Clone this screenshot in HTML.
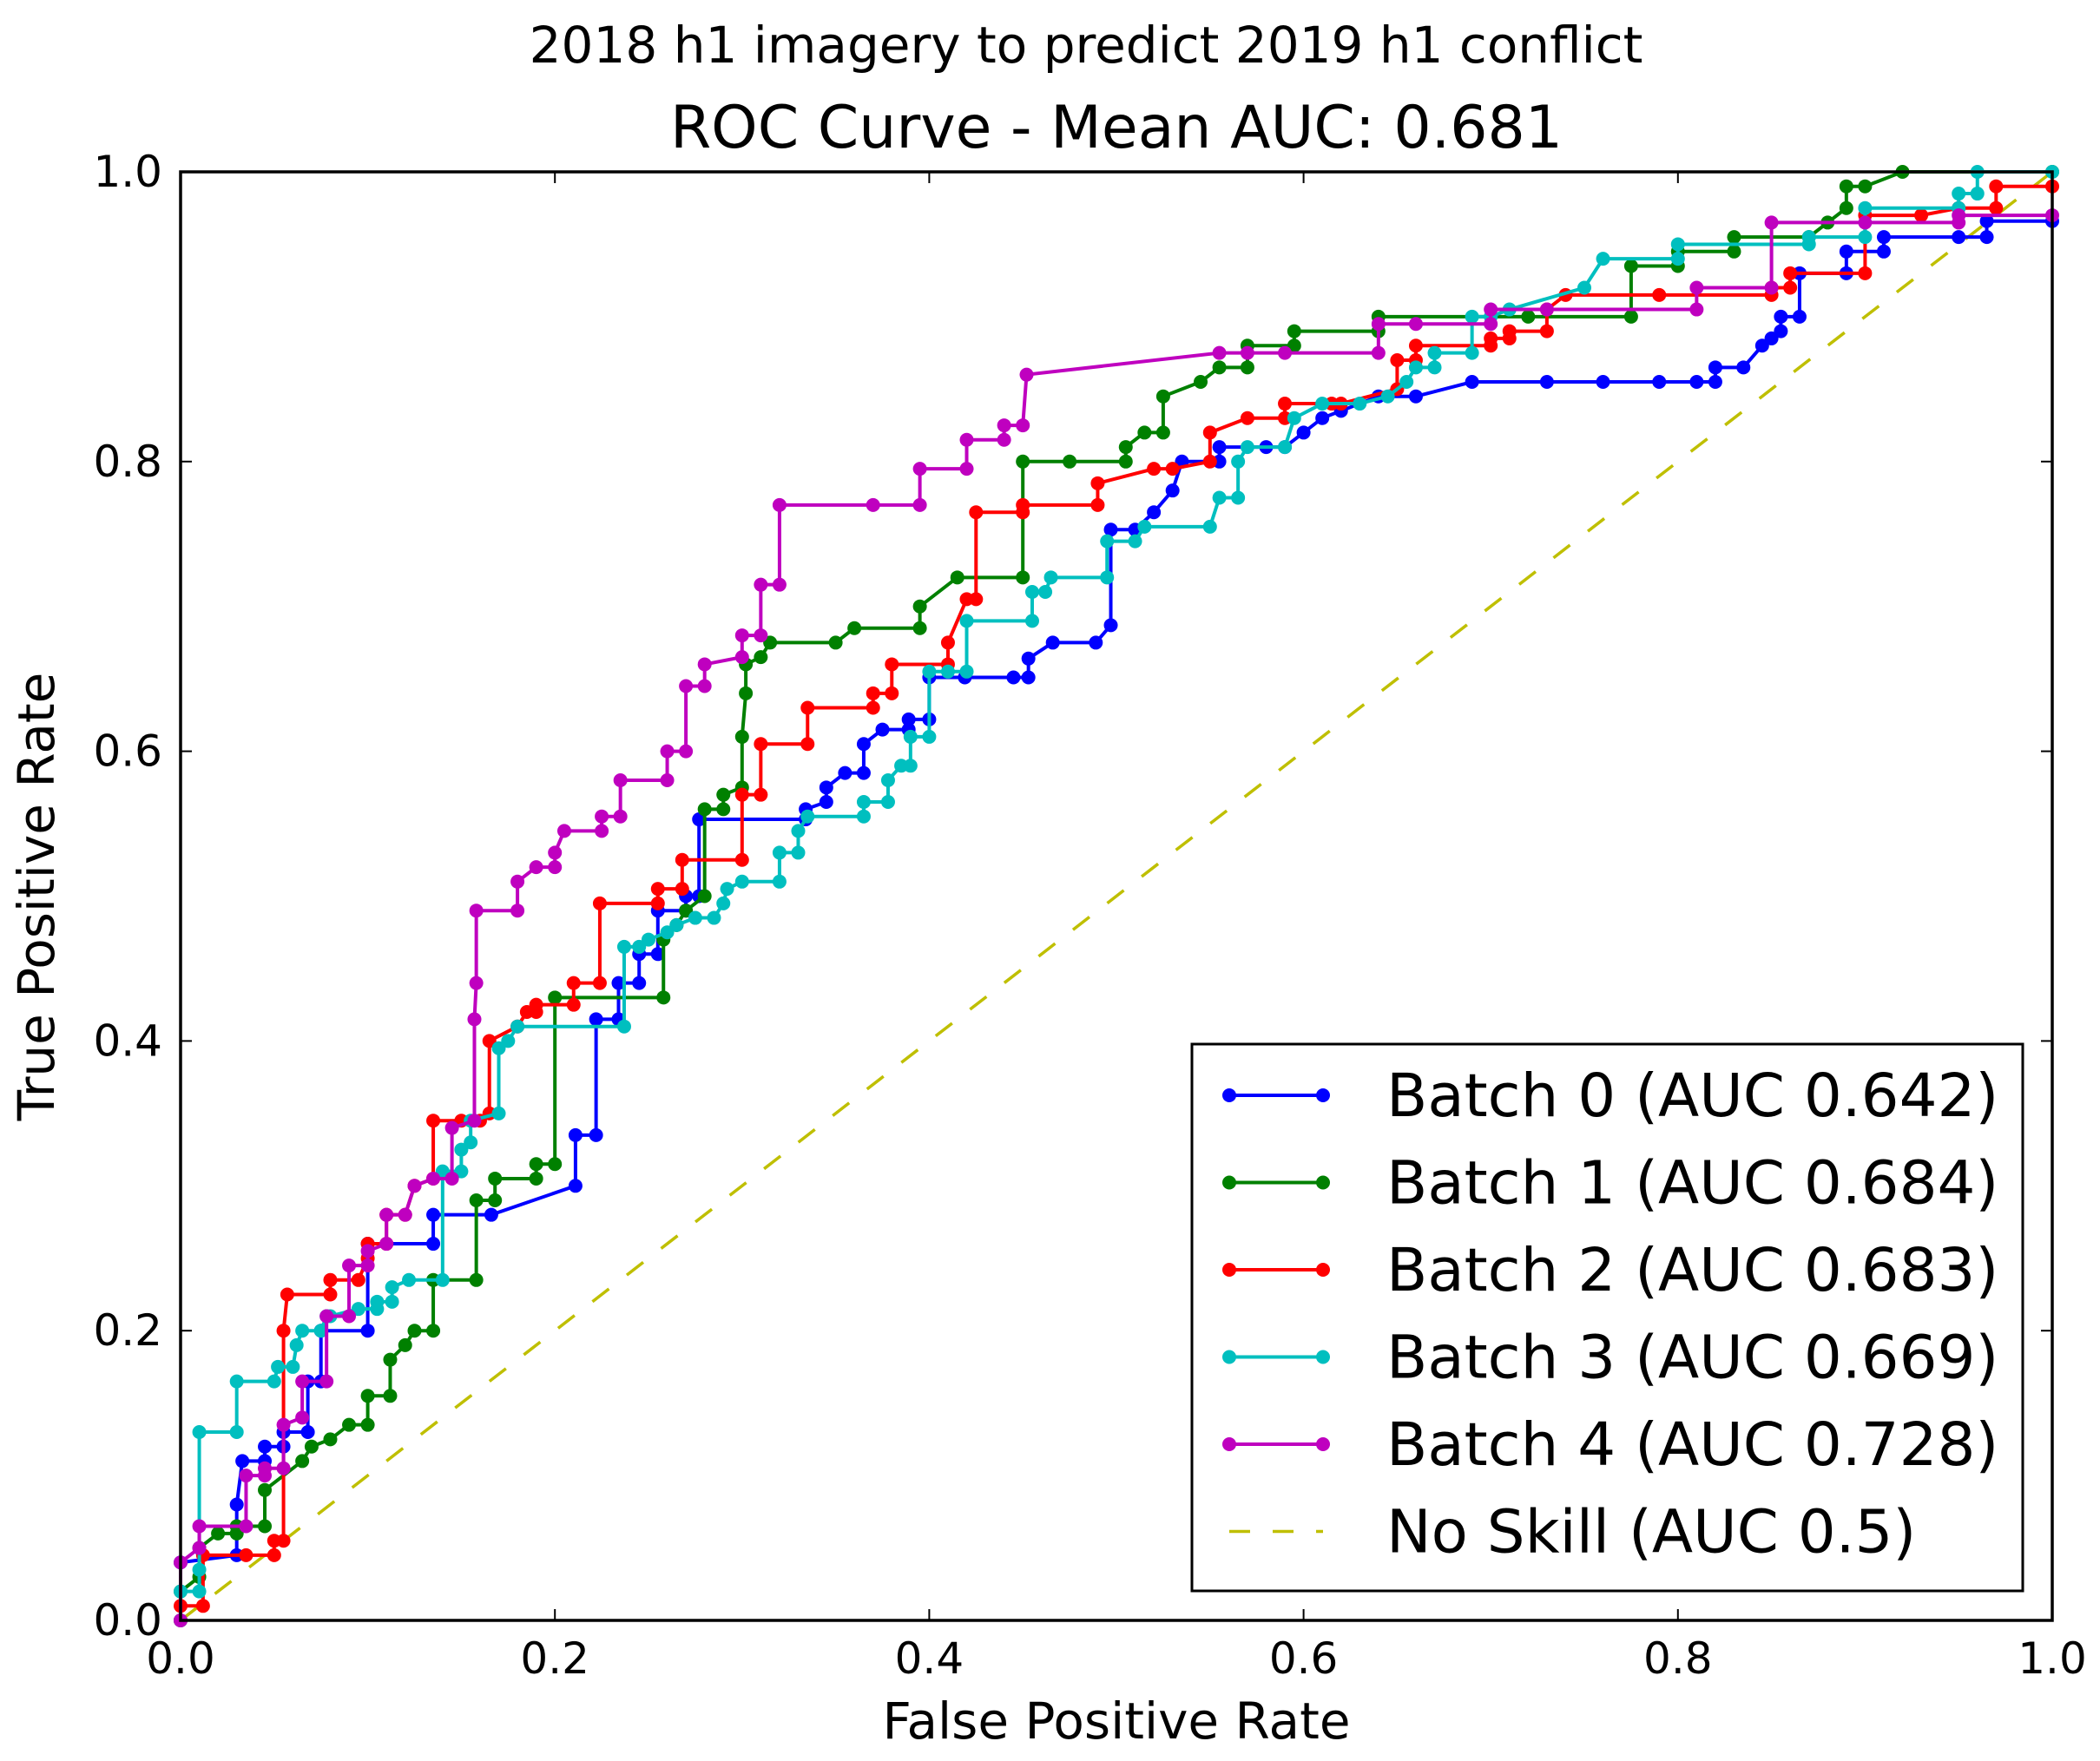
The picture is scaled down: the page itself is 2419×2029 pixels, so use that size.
<!DOCTYPE html>
<html><head><meta charset="utf-8"><style>
html,body{margin:0;padding:0;background:#fff;}
svg{display:block;font-family:"DejaVu Sans","Liberation Sans",sans-serif;}
</style></head><body>
<svg id="chart" width="2419" height="2029" viewBox="0 0 2419 2029" xmlns="http://www.w3.org/2000/svg">
<rect width="2419" height="2029" fill="#fff"/>
<text x="1251" y="72" font-size="58" text-anchor="middle">2018 h1 imagery to predict 2019 h1 conflict</text>
<text x="1286" y="170" font-size="68" text-anchor="middle">ROC Curve - Mean AUC: 0.681</text>
<text x="1286" y="2003" font-size="58" text-anchor="middle">False Positive Rate</text>
<text x="0" y="0" font-size="58" text-anchor="middle" transform="translate(62,1033) rotate(-90)">True Positive Rate</text>
<g id="ticks"></g>
<g id="series"></g>
<rect x="208" y="198" width="2156" height="1669" fill="none" stroke="#000" stroke-width="3.5"/>
<g id="legend"></g>
</svg>
<script>
const ticks = [0, 0.2, 0.4, 0.6, 0.8, 1.0];
const tickLabels = ["0.0","0.2","0.4","0.6","0.8","1.0"];
const seriesNames = ["Batch 0 (AUC 0.642)","Batch 1 (AUC 0.684)","Batch 2 (AUC 0.683)","Batch 3 (AUC 0.669)","Batch 4 (AUC 0.728)"];
const noSkillName = "No Skill (AUC 0.5)";
const noSkill = [[0,0],[1,1]];
const batch0 = [[0,0],[0,0.04],[0.03,0.045],[0.03,0.08],[0.033,0.11],[0.045,0.11],[0.045,0.12],[0.055,0.12],[0.055,0.13],[0.068,0.13],[0.068,0.165],[0.075,0.165],[0.075,0.2],[0.1,0.2],[0.1,0.26],[0.135,0.26],[0.135,0.28],[0.166,0.28],[0.211,0.3],[0.211,0.335],[0.222,0.335],[0.222,0.415],[0.234,0.415],[0.234,0.44],[0.245,0.44],[0.245,0.46],[0.255,0.46],[0.255,0.49],[0.27,0.49],[0.27,0.5],[0.277,0.5],[0.277,0.553],[0.334,0.553],[0.334,0.56],[0.345,0.565],[0.345,0.575],[0.355,0.585],[0.365,0.585],[0.365,0.605],[0.375,0.615],[0.389,0.615],[0.389,0.622],[0.4,0.622],[0.4,0.651],[0.419,0.651],[0.445,0.651],[0.453,0.651],[0.453,0.664],[0.466,0.675],[0.489,0.675],[0.497,0.687],[0.497,0.753],[0.51,0.753],[0.52,0.765],[0.53,0.78],[0.535,0.8],[0.555,0.8],[0.555,0.81],[0.58,0.81],[0.59,0.81],[0.6,0.82],[0.61,0.83],[0.62,0.835],[0.64,0.845],[0.66,0.845],[0.69,0.855],[0.73,0.855],[0.76,0.855],[0.79,0.855],[0.81,0.855],[0.82,0.855],[0.82,0.865],[0.835,0.865],[0.845,0.88],[0.85,0.885],[0.855,0.89],[0.855,0.9],[0.865,0.9],[0.865,0.93],[0.89,0.93],[0.89,0.945],[0.91,0.945],[0.91,0.955],[0.95,0.955],[0.965,0.955],[0.965,0.966],[1,0.966]];
const batch1 = [[0,0],[0,0.02],[0.01,0.03],[0.01,0.05],[0.02,0.06],[0.03,0.06],[0.03,0.065],[0.045,0.065],[0.045,0.09],[0.065,0.11],[0.07,0.12],[0.08,0.125],[0.09,0.135],[0.1,0.135],[0.1,0.155],[0.112,0.155],[0.112,0.18],[0.12,0.19],[0.125,0.2],[0.135,0.2],[0.135,0.235],[0.158,0.235],[0.158,0.29],[0.168,0.29],[0.168,0.305],[0.19,0.305],[0.19,0.315],[0.2,0.315],[0.2,0.43],[0.258,0.43],[0.258,0.47],[0.265,0.48],[0.27,0.49],[0.28,0.5],[0.28,0.56],[0.29,0.56],[0.29,0.57],[0.3,0.575],[0.3,0.61],[0.302,0.64],[0.302,0.66],[0.31,0.665],[0.315,0.675],[0.35,0.675],[0.36,0.685],[0.395,0.685],[0.395,0.7],[0.415,0.72],[0.45,0.72],[0.45,0.8],[0.475,0.8],[0.505,0.8],[0.505,0.81],[0.515,0.82],[0.525,0.82],[0.525,0.845],[0.545,0.855],[0.555,0.865],[0.57,0.865],[0.57,0.88],[0.595,0.88],[0.595,0.89],[0.64,0.89],[0.64,0.9],[0.72,0.9],[0.775,0.9],[0.775,0.935],[0.8,0.935],[0.8,0.945],[0.83,0.945],[0.83,0.955],[0.87,0.955],[0.88,0.965],[0.89,0.975],[0.89,0.99],[0.9,0.99],[0.92,1],[1,1]];
const batch2 = [[0,0],[0,0.01],[0.012,0.01],[0.012,0.045],[0.035,0.045],[0.05,0.045],[0.05,0.055],[0.055,0.055],[0.055,0.2],[0.057,0.225],[0.08,0.225],[0.08,0.235],[0.095,0.235],[0.1,0.25],[0.1,0.26],[0.11,0.26],[0.11,0.28],[0.12,0.28],[0.125,0.3],[0.135,0.305],[0.135,0.345],[0.15,0.345],[0.16,0.345],[0.165,0.35],[0.165,0.4],[0.18,0.41],[0.185,0.42],[0.19,0.42],[0.19,0.425],[0.21,0.425],[0.21,0.44],[0.224,0.44],[0.224,0.495],[0.255,0.495],[0.255,0.505],[0.268,0.505],[0.268,0.525],[0.3,0.525],[0.3,0.57],[0.31,0.57],[0.31,0.605],[0.335,0.605],[0.335,0.63],[0.37,0.63],[0.37,0.64],[0.38,0.64],[0.38,0.66],[0.41,0.66],[0.41,0.675],[0.42,0.705],[0.425,0.705],[0.425,0.765],[0.45,0.765],[0.45,0.77],[0.49,0.77],[0.49,0.785],[0.52,0.795],[0.53,0.795],[0.55,0.8],[0.55,0.82],[0.57,0.83],[0.59,0.83],[0.59,0.84],[0.615,0.84],[0.62,0.84],[0.65,0.85],[0.65,0.87],[0.66,0.87],[0.66,0.88],[0.7,0.88],[0.7,0.885],[0.71,0.885],[0.71,0.89],[0.73,0.89],[0.73,0.905],[0.74,0.915],[0.79,0.915],[0.85,0.915],[0.85,0.92],[0.86,0.92],[0.86,0.93],[0.9,0.93],[0.9,0.97],[0.93,0.97],[0.95,0.975],[0.97,0.975],[0.97,0.99],[1,0.99]];
const batch3 = [[0,0],[0,0.02],[0.01,0.02],[0.01,0.035],[0.01,0.13],[0.03,0.13],[0.03,0.165],[0.05,0.165],[0.052,0.175],[0.06,0.175],[0.062,0.19],[0.065,0.2],[0.075,0.2],[0.078,0.21],[0.08,0.21],[0.095,0.215],[0.105,0.215],[0.105,0.22],[0.113,0.22],[0.113,0.23],[0.122,0.235],[0.14,0.235],[0.14,0.31],[0.15,0.31],[0.15,0.325],[0.155,0.33],[0.155,0.345],[0.17,0.35],[0.17,0.395],[0.175,0.4],[0.18,0.41],[0.237,0.41],[0.237,0.465],[0.245,0.465],[0.25,0.47],[0.26,0.475],[0.265,0.48],[0.275,0.485],[0.285,0.485],[0.29,0.495],[0.292,0.505],[0.3,0.51],[0.32,0.51],[0.32,0.53],[0.33,0.53],[0.33,0.545],[0.335,0.555],[0.365,0.555],[0.365,0.565],[0.378,0.565],[0.378,0.58],[0.385,0.59],[0.39,0.59],[0.39,0.61],[0.4,0.61],[0.4,0.655],[0.41,0.655],[0.42,0.655],[0.42,0.69],[0.455,0.69],[0.455,0.71],[0.462,0.71],[0.465,0.72],[0.495,0.72],[0.495,0.745],[0.51,0.745],[0.515,0.755],[0.55,0.755],[0.555,0.775],[0.565,0.775],[0.565,0.8],[0.57,0.81],[0.59,0.81],[0.595,0.83],[0.61,0.84],[0.63,0.84],[0.645,0.845],[0.655,0.855],[0.66,0.865],[0.67,0.865],[0.67,0.875],[0.69,0.875],[0.69,0.9],[0.7,0.9],[0.71,0.905],[0.75,0.92],[0.76,0.94],[0.8,0.94],[0.8,0.95],[0.87,0.95],[0.87,0.955],[0.9,0.955],[0.9,0.975],[0.95,0.975],[0.95,0.985],[0.96,0.985],[0.96,1],[1,1]];
const batch4 = [[0,0],[0,0.04],[0.01,0.05],[0.01,0.065],[0.035,0.065],[0.035,0.1],[0.045,0.1],[0.045,0.105],[0.055,0.105],[0.055,0.135],[0.065,0.14],[0.065,0.165],[0.078,0.165],[0.078,0.21],[0.09,0.21],[0.09,0.245],[0.1,0.245],[0.1,0.255],[0.11,0.26],[0.11,0.28],[0.12,0.28],[0.125,0.3],[0.135,0.305],[0.145,0.305],[0.145,0.34],[0.157,0.345],[0.157,0.415],[0.158,0.44],[0.158,0.49],[0.18,0.49],[0.18,0.51],[0.19,0.52],[0.2,0.52],[0.2,0.53],[0.205,0.545],[0.225,0.545],[0.225,0.555],[0.235,0.555],[0.235,0.58],[0.26,0.58],[0.26,0.6],[0.27,0.6],[0.27,0.645],[0.28,0.645],[0.28,0.66],[0.3,0.665],[0.3,0.68],[0.31,0.68],[0.31,0.715],[0.32,0.715],[0.32,0.77],[0.37,0.77],[0.395,0.77],[0.395,0.795],[0.42,0.795],[0.42,0.815],[0.44,0.815],[0.44,0.825],[0.45,0.825],[0.452,0.86],[0.555,0.875],[0.57,0.875],[0.59,0.875],[0.64,0.875],[0.64,0.895],[0.66,0.895],[0.7,0.895],[0.7,0.905],[0.73,0.905],[0.81,0.905],[0.81,0.92],[0.85,0.92],[0.85,0.965],[0.9,0.965],[0.95,0.965],[0.95,0.97],[1,0.97]];
const allSeries = [batch0, batch1, batch2, batch3, batch4];
const colors = ["#0000ff","#008000","#ff0000","#00bfbf","#bf00bf"];

const NS = "http://www.w3.org/2000/svg";
const X0 = 208, X1 = 2364, Y0 = 1867, Y1 = 198;
function sx(v){ return X0 + v*(X1-X0); }
function sy(v){ return Y0 - v*(Y0-Y1); }
function mk(tag, attrs, parent){ const e=document.createElementNS(NS,tag); for(const k in attrs) e.setAttribute(k,attrs[k]); parent.appendChild(e); return e; }

const tg = document.getElementById('ticks');
ticks.forEach((t,i)=>{
  let l;
  l = mk('line',{x1:sx(t),x2:sx(t),y1:Y0,y2:Y0-13,stroke:'#000','stroke-width':2},tg);
   
  l = mk('line',{x1:sx(t),x2:sx(t),y1:Y1,y2:Y1+13,stroke:'#000','stroke-width':2},tg);
   
  l = mk('line',{x1:X0,x2:X0+13,y1:sy(t),y2:sy(t),stroke:'#000','stroke-width':2},tg);
   
  l = mk('line',{x1:X1,x2:X1-13,y1:sy(t),y2:sy(t),stroke:'#000','stroke-width':2},tg);
   
  let tx = mk('text',{x:sx(t),y:1928,'font-size':50,'text-anchor':'middle'},tg);
  tx.textContent = tickLabels[i];
   
  let ty = mk('text',{x:187,y:sy(t)+17,'font-size':50,'text-anchor':'end'},tg);
  ty.textContent = tickLabels[i];
   
});

const sg = document.getElementById('series');
const ns = mk('polyline',{points:noSkill.map(p=>sx(p[0])+','+sy(p[1])).join(' '),fill:'none',stroke:'#bfbf00','stroke-width':3.5,'stroke-dasharray':'24 26'},sg);
 
allSeries.forEach((s,i)=>{
  const g = mk('g',{},sg);
   
  const pl = mk('polyline',{points:s.map(p=>sx(p[0])+','+sy(p[1])).join(' '),fill:'none',stroke:colors[i],'stroke-width':4},g);
   
  s.forEach(p=>{
    const c = mk('circle',{cx:sx(p[0]),cy:sy(p[1]),r:8,fill:colors[i]},g);
     
  });
});

const lg = document.getElementById('legend');
const box = mk('rect',{x:1373,y:1203,width:957,height:630,fill:'#fff',stroke:'#000','stroke-width':3},lg);
 
const names = seriesNames.concat([noSkillName]);
names.forEach((n,i)=>{
  const y = 1262 + i*100.5;
  const g = mk('g',{},lg);
   
  if(i<5){
    mk('line',{x1:1416,x2:1524,y1:y,y2:y,stroke:colors[i],'stroke-width':4},g);
    mk('circle',{cx:1416,cy:y,r:8,fill:colors[i]},g);
    mk('circle',{cx:1524,cy:y,r:8,fill:colors[i]},g);
  } else {
    mk('line',{x1:1416,x2:1524,y1:y,y2:y,stroke:'#bfbf00','stroke-width':3.5,'stroke-dasharray':'24 26'},g);
  }
  const t = mk('text',{x:1597,y:y+24,'font-size':69},g);
  t.textContent = n;
});
</script>
</body></html>
